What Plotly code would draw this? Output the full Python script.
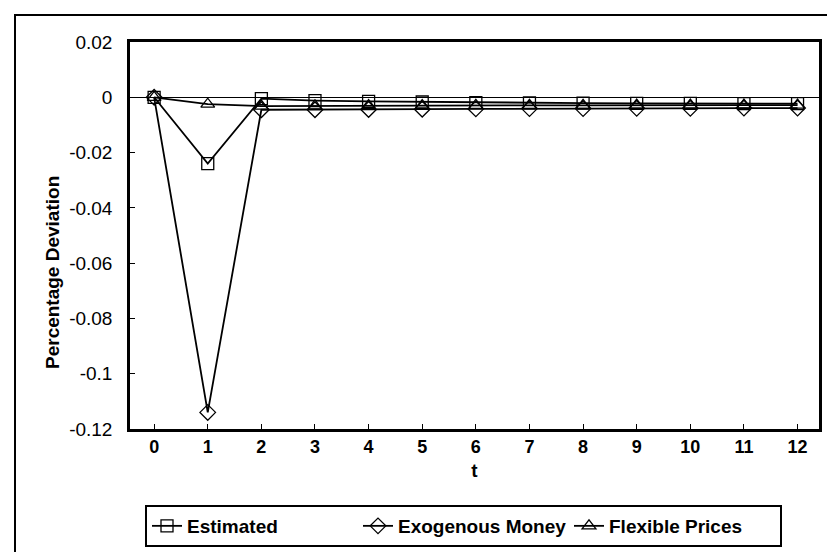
import plotly.graph_objects as go

t = list(range(13))
tick_labels = [str(v) for v in t]
estimated = [0, -0.024, -0.0005, -0.0012, -0.0015, -0.0017, -0.0019, -0.002, -0.0021, -0.0022, -0.0022, -0.0023, -0.0023]
exogenous = [0, -0.114, -0.0045, -0.0045, -0.0044, -0.0043, -0.0042, -0.0041, -0.0041, -0.004, -0.004, -0.0039, -0.0039]
flexible = [0, -0.0025, -0.0032, -0.0031, -0.003, -0.003, -0.0029, -0.0029, -0.0029, -0.0028, -0.0028, -0.0028, -0.0028]
y_ticks = [0.02, 0, -0.02, -0.04, -0.06, -0.08, -0.1, -0.12]
y_tick_text = ["0.02", "0", "-0.02", "-0.04", "-0.06", "-0.08", "-0.1", "-0.12"]

series = [
    ("Estimated", estimated, "square-open"),
    ("Exogenous Money", exogenous, "diamond-open"),
    ("Flexible Prices", flexible, "triangle-up-open"),
]

fig = go.Figure()
for name, vals, sym in series:
    fig.add_trace(go.Scatter(
        x=t, y=vals, name=name, mode="lines+markers",
        line=dict(color="black", width=1.8),
        marker=dict(symbol=sym, size=12, color="black", line=dict(color="black", width=1.3)),
    ))

L, R, T, B = 122, 24, 34, 131
W, H = 835, 552
pw, ph = W - L - R, H - T - B

fig.update_layout(
    width=W, height=H,
    margin=dict(l=L, r=R, t=T, b=B),
    paper_bgcolor="white", plot_bgcolor="white",
    font=dict(family="Liberation Sans, Arial", color="black"),
    showlegend=True,
    legend=dict(
        orientation="h", x=(137 - L) / pw, y=(421 - 497) / ph,
        xanchor="left", yanchor="top",
        bordercolor="black", borderwidth=2, bgcolor="white",
        font=dict(size=19, family="Liberation Sans, Arial", color="black", weight="bold"),
        itemwidth=30, entrywidth=166, entrywidthmode="pixels",
        tracegroupgap=0,
    ),
    xaxis=dict(
        range=[-0.45, 12.4], tickmode="array", tickvals=t, ticktext=tick_labels,
        ticks="inside", ticklen=5, tickcolor="black", tickwidth=1,
        showline=True, linecolor="black", linewidth=2.5, mirror=True,
        showgrid=False, zeroline=False,
        tickfont=dict(size=18, weight="bold"),
        title=dict(text="t", font=dict(size=19, weight="bold"), standoff=8),
    ),
    yaxis=dict(
        range=[-0.12, 0.02], tickmode="array", tickvals=y_ticks, ticktext=y_tick_text,
        ticks="inside", ticklen=5, tickcolor="black", tickwidth=1,
        showline=True, linecolor="black", linewidth=2.5, mirror=True,
        showgrid=False, zeroline=True, zerolinecolor="black", zerolinewidth=1,
        tickfont=dict(size=19),
        ticklabelstandoff=11,
    ),
)

fig.add_annotation(
    text="Percentage Deviation", textangle=-90,
    xref="paper", yref="paper", x=(44 - L) / pw, y=(421 - 265) / ph,
    xanchor="center", yanchor="middle", showarrow=False,
    font=dict(size=19, weight="bold", family="Liberation Sans, Arial", color="black"),
)

# outer frame
fig.add_shape(
    type="rect", xref="paper", yref="paper",
    x0=(7 - L) / pw, x1=(840 - L) / pw, y0=(421 - 550) / ph, y1=(421 - 7) / ph,
    line=dict(color="black", width=2), fillcolor="rgba(0,0,0,0)", layer="below",
)

fig.write_html("out.html")
